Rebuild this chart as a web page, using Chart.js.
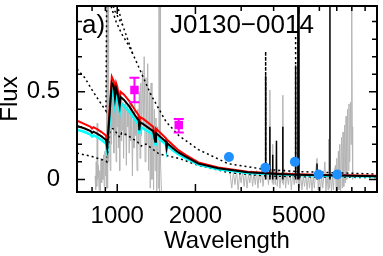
<!DOCTYPE html>
<html>
<head>
<meta charset="utf-8">
<script src="https://cdn.jsdelivr.net/npm/chart.js@4.4.1/dist/chart.umd.min.js"></script>
<style>
  html, body { margin: 0; padding: 0; background: #fff; }
</style>
</head>
<body>
<canvas id="sed" width="383" height="256"></canvas>
<script>
// observed spectrum (grey), rest-frame wavelength
const specWave = [822, 826, 830, 834, 837, 841, 846, 851, 856, 861, 866, 871, 876, 881, 886, 891, 896, 901, 906, 910, 912, 914, 916, 918, 920, 922, 926, 930,
  935, 940, 945, 950, 955, 960, 965, 970, 975, 980, 985, 990, 995, 1000, 1005, 1010, 1016, 1022, 1028, 1034, 1040, 1046, 1052, 1058, 1064, 1070,
  1077, 1084, 1091, 1098, 1105, 1112, 1120, 1128, 1136, 1144, 1152, 1160, 1168, 1176, 1184, 1192, 1200, 1208, 1216, 1224, 1232, 1240, 1250, 1260,
  1270, 1280, 1290, 1300, 1310, 1320, 1330, 1340, 1350, 1360, 1370, 1380, 1390, 1400, 1410, 1420, 1430, 1440, 1448, 1455, 1462, 1468, 1480];
const specFlux = [0.02, -0.06, 0.10, -0.04, 0.32, 0.00, 0.08, -0.06, 0.05, -0.07, 0.12, -0.02, 0.10, 0.00, 0.14, -0.04, 0.16, 0.02, 0.20, 1.20, -0.05, 1.20, 0.00, 1.20, -0.05, 1.20, 0.10, 0.20,
  0.35, 0.05, 0.50, 0.20, 0.55, 0.30, 0.50, 0.15, 0.45, 0.25, 0.52, 0.10, 0.48, 0.30, 0.50, 0.18, 0.46, 0.05, 0.42, 0.22, 0.47, 0.28, 0.44, 0.12, 0.43, 0.25,
  0.45, 0.08, 0.42, 0.30, 0.40, 0.15, 0.44, 0.22, 0.40, 0.02, 0.38, 0.18, 0.45, 0.25, 0.36, 0.05, 0.40, 0.20, 0.50, 0.12, 0.55, 0.25, 0.62, 0.30,
  0.70, 0.10, 0.58, 0.20, 0.66, 0.05, 0.50, -0.05, 0.55, 0.00, 0.45, -0.06, 0.40, 0.05, 0.35, -0.07, 0.30, -0.05, 1.20, -0.07, 1.20, 0.10, -0.07];
const specWave2 = [2720, 2760, 2800, 2840, 2880, 2920, 2960, 3000, 3040, 3080, 3120, 3160, 3200, 3240, 3280, 3320, 3360, 3400, 3440, 3480, 3520, 3560,
  3600, 3640, 3690, 3715, 3727, 3740, 3780, 3820, 3855, 3869, 3885, 3920, 3950, 3968, 3985, 4020, 4060, 4102, 4130, 4180, 4230, 4280, 4320, 4340,
  4360, 4400, 4450, 4500, 4560, 4620, 4680, 4740, 4800, 4845, 4861, 4880, 4920, 4959, 4980, 5007, 5030, 5080, 5140, 5200, 5260, 5320, 5380, 5440,
  5500, 5560, 5620, 5680, 5740, 5800, 5876, 5940, 6000, 6060, 6120, 6180, 6240, 6300, 6360, 6420, 6480, 6520, 6550, 6620, 6680, 6740, 6800, 6860,
  6920, 6960, 7000, 7040, 7100, 7140, 7190, 7240, 7300, 7350, 7400, 7450, 7500, 7550, 7600, 7650, 7700, 7750, 7800, 7850, 7900, 7950, 7990, 8030, 8050, 8070];
const specFlux2 = [0.03, -0.05, 0.04, -0.03, 0.05, -0.06, 0.03, -0.02, 0.05, -0.04, 0.04, -0.05, 0.03, -0.02, 0.05, -0.04, 0.04, -0.03, 0.05, -0.05, 0.04, -0.02,
  0.05, -0.04, 0.04, 0.00, 0.55, 0.00, 0.05, -0.03, 0.03, 0.51, 0.00, 0.06, -0.02, 0.20, -0.03, 0.05, -0.03, 0.22, -0.04, 0.05, -0.05, 0.04, -0.02, 0.48,
  -0.03, 0.06, -0.05, 0.04, -0.03, 0.05, -0.06, 0.04, -0.03, 0.03, 0.60, -0.02, 0.04, 1.20, -0.05, 1.20, -0.05, 0.03, -0.06, 0.02, -0.04, 0.03, -0.06, 0.02,
  -0.05, 0.03, -0.07, 0.02, -0.05, 0.04, 0.12, -0.06, 0.02, -0.07, 0.03, -0.05, 0.02, 0.10, -0.07, 0.03, -0.06, 0.23, -0.05, 0.03, -0.07, 0.02, -0.06, 0.05,
  0.08, -0.07, 0.12, -0.07, 0.16, -0.06, 0.20, -0.07, 0.24, -0.05, 0.27, -0.04, 0.31, -0.02, 0.36, 0.00, 0.40, 0.05, 0.43, 0.10, 0.44, 0.20, 1.20, 0.25, 0.30, 0.00];

// best-fit models
const modelWave = [700, 750, 790, 800, 810, 840, 870, 905, 915, 953, 970, 980, 990, 1000, 1022, 1030, 1060, 1115, 1165, 1210, 1216, 1225, 1260,
  1375, 1400, 1410, 1540, 1549, 1560, 1680, 1725, 1833, 2053, 2446, 3175, 4114, 4905, 6376, 10000];
const redFlux = [0.335, 0.315, 0.30, 0.29, 0.298, 0.285, 0.27, 0.25, 0.20, 0.585, 0.56, 0.50, 0.55, 0.53, 0.45, 0.50, 0.485, 0.445, 0.40, 0.365, 0.31, 0.355, 0.345,
  0.30, 0.24, 0.29, 0.235, 0.20, 0.225, 0.18, 0.165, 0.14, 0.097, 0.068, 0.043, 0.033, 0.029, 0.025, 0.02];
const blackFlux = [0.305, 0.29, 0.275, 0.265, 0.272, 0.26, 0.245, 0.225, 0.18, 0.55, 0.53, 0.465, 0.52, 0.50, 0.42, 0.47, 0.455, 0.415, 0.37, 0.335, 0.28, 0.325, 0.315,
  0.275, 0.215, 0.265, 0.215, 0.18, 0.205, 0.165, 0.152, 0.13, 0.09, 0.063, 0.04, 0.031, 0.027, 0.023, 0.018];
const cyanFlux = [0.283, 0.27, 0.255, 0.245, 0.252, 0.24, 0.225, 0.205, 0.165, 0.505, 0.49, 0.43, 0.48, 0.465, 0.39, 0.435, 0.42, 0.385, 0.345, 0.31, 0.26, 0.30, 0.29,
  0.255, 0.20, 0.245, 0.20, 0.167, 0.19, 0.153, 0.142, 0.121, 0.084, 0.058, 0.037, 0.029, 0.025, 0.021, 0.016];

// emission lines in the black model
const lineWave = [3727, 3869, 3968, 4102, 4340, 4861, 4959, 5007, 5876, 6590];
const lineTop = [0.59, 0.30, 0.14, 0.22, 0.30, 0.65, 1.20, 1.20, 0.09, 1.20];

// model components (dotted)
const compAWave = [700, 750, 800, 850, 905, 912, 978, 1049, 1145, 1351, 1540, 1725, 2053, 2667, 3680, 3727, 3727, 3727, 4861, 4861, 4861, 4905, 10000];
const compAFlux = [0.63, 0.58, 0.51, 0.45, 0.39, 1.20, 1.05, 0.88, 0.72, 0.48, 0.33, 0.25, 0.17, 0.09, 0.057, 0.057, 0.73, 0.057, 0.045, 0.82, 0.045, 0.045, 0.03];
const compBWave = [918, 950, 990, 1040, 1100, 1145];
const compBFlux = [1.10, 0.98, 0.90, 0.83, 0.77, 0.72];
const compCWave = [925, 950, 980, 1020, 1049];
const compCFlux = [1.10, 1.02, 0.96, 0.91, 0.88];
const compDWave = [700, 800, 905, 912, 937, 960, 978, 1000, 1022, 1040, 1086, 1150, 1185, 1238, 1260, 1293, 1449, 1725, 2053, 2667, 3680, 5000, 10000];
const compDFlux = [0.15, 0.13, 0.105, 0.10, 0.27, 0.29, 0.28, 0.26, 0.24, 0.265, 0.255, 0.23, 0.22, 0.19, 0.20, 0.20, 0.145, 0.12, 0.08, 0.04, 0.02, 0.015, 0.01];

// photometry
const photWave = [2692, 3717, 4830, 5960, 7030];
const photFlux = [0.128, 0.067, 0.100, 0.028, 0.028];
const uvWave = [1165, 1725];
const uvFlux = [0.51, 0.31];
const uvLo = [0.44, 0.267];
const uvHi = [0.58, 0.344];

// axes
const xTickValues = [700, 800, 900, 1000, 2000, 3000, 4000, 5000, 6000, 7000, 8000, 9000];
const xLabelValues = [1000, 2000, 5000];
const yTickValues = [0, 0.1, 0.2, 0.3, 0.4, 0.5, 0.6, 0.7, 0.8, 0.9];
const yLabelValues = [0, 0.5];

const zip = (w, f) => w.map((v, i) => ({ x: v, y: f[i] }));
const spikes = [];
lineWave.forEach((w, i) => {
  spikes.push({ x: w, y: 0.0 }, { x: w, y: lineTop[i] }, { x: w, y: null });
});

const FONT = '"Liberation Sans", Arial, sans-serif';

const line = (label, data, color, width, dash) => ({
  label, data, borderColor: color, borderWidth: width, borderDash: dash || [],
  pointRadius: 0, tension: 0, fill: false, spanGaps: false
});

// inward ticks, frame, error bars and panel text
const frameTicks = {
  id: 'frameTicks',
  afterDatasetsDraw(chart) {
    const { ctx, chartArea: { left, right, top, bottom }, scales: { x, y } } = chart;
    ctx.save();
    // error bars
    ctx.strokeStyle = '#ff00ff';
    ctx.lineWidth = 2;
    uvWave.forEach((w, i) => {
      const px = x.getPixelForValue(w);
      const lo = y.getPixelForValue(uvLo[i]);
      const hi = y.getPixelForValue(uvHi[i]);
      ctx.beginPath();
      ctx.moveTo(px, lo); ctx.lineTo(px, hi);
      ctx.moveTo(px - 5, lo); ctx.lineTo(px + 5, lo);
      ctx.moveTo(px - 5, hi); ctx.lineTo(px + 5, hi);
      ctx.stroke();
    });

    ctx.strokeStyle = '#000';
    ctx.lineWidth = 1.5;
    xTickValues.forEach(v => {
      const px = x.getPixelForValue(v);
      if (px < left || px > right) return;
      const len = xLabelValues.includes(v) ? 8 : 5;
      ctx.beginPath();
      ctx.moveTo(px, bottom); ctx.lineTo(px, bottom - len);
      ctx.moveTo(px, top); ctx.lineTo(px, top + len);
      ctx.stroke();
    });
    yTickValues.forEach(v => {
      const py = y.getPixelForValue(v);
      const len = yLabelValues.includes(v) ? 8 : 5;
      ctx.beginPath();
      ctx.moveTo(left, py); ctx.lineTo(left + len, py);
      ctx.moveTo(right, py); ctx.lineTo(right - len, py);
      ctx.stroke();
    });
    ctx.lineWidth = 2;
    ctx.strokeRect(left, top, right - left, bottom - top);

    ctx.fillStyle = '#000';
    ctx.font = '26px ' + FONT;
    ctx.textBaseline = 'alphabetic';
    ctx.textAlign = 'left';
    ctx.fillText('a)', left + 5, 33);
    ctx.fillText('J0130\u22120014', 170, 33);
    ctx.restore();
  }
};

const config = {
  type: 'line',
  data: {
    datasets: [
      { label: 'phot', data: zip(photWave, photFlux), showLine: false, pointStyle: 'circle',
        pointRadius: 5, pointBackgroundColor: '#1e90ff', pointBorderWidth: 0 },
      { label: 'uv', data: zip(uvWave, uvFlux), showLine: false, pointStyle: 'rect',
        pointRadius: 6, pointBackgroundColor: '#ff00ff', pointBorderWidth: 0 },
      line('lines', spikes, '#000', 1.5),
      line('black', zip(modelWave, blackFlux), '#000', 2),
      line('red', zip(modelWave, redFlux), '#ff0000', 2),
      line('cyan', zip(modelWave, cyanFlux), '#00ffff', 2.5),
      line('compA', zip(compAWave, compAFlux), '#000', 1.5, [2, 3]),
      line('compB', zip(compBWave, compBFlux), '#000', 1.5, [2, 3]),
      line('compC', zip(compCWave, compCFlux), '#000', 1.5, [2, 3]),
      line('compD', zip(compDWave, compDFlux), '#000', 1.5, [2, 3]),
      line('spec', zip(specWave, specFlux), '#b4b4b4', 1),
      line('spec2', zip(specWave2, specFlux2), '#b4b4b4', 1)
    ]
  },
  options: {
    responsive: false,
    animation: false,
    devicePixelRatio: 1,
    layout: { padding: { top: 1, right: 2, left: 0, bottom: 0 } },
    plugins: { legend: { display: false }, tooltip: { enabled: false } },
    events: [],
    scales: {
      x: {
        type: 'logarithmic', min: 700, max: 10000,
        grid: { display: false, drawTicks: false },
        border: { display: false },
        afterBuildTicks: s => { s.ticks = xLabelValues.map(v => ({ value: v })); },
        afterFit: s => { s.height = 64; s.paddingLeft = 0; s.paddingRight = 0; },
        ticks: { autoSkip: false, maxRotation: 0, padding: 10, color: '#000',
          font: { family: FONT, size: 24 }, callback: v => String(v) },
        title: { display: true, text: 'Wavelength', color: '#000',
          font: { family: FONT, size: 24, lineHeight: 1.25 }, padding: 0 }
      },
      y: {
        min: -0.072, max: 0.989,
        grid: { display: false, drawTicks: false },
        border: { display: false },
        afterBuildTicks: s => { s.ticks = yLabelValues.map(v => ({ value: v })); },
        afterFit: s => { s.width = 77; s.paddingTop = 0; s.paddingBottom = 0; },
        ticks: { padding: 17, color: '#000', font: { family: FONT, size: 24 },
          callback: v => String(v) },
        title: { display: true, text: 'Flux', color: '#000',
          font: { family: FONT, size: 24, lineHeight: 0.85 }, padding: 0 }
      }
    }
  },
  plugins: [frameTicks]
};

const sedChart = new Chart(document.getElementById('sed'), config);
</script>
</body>
</html>
